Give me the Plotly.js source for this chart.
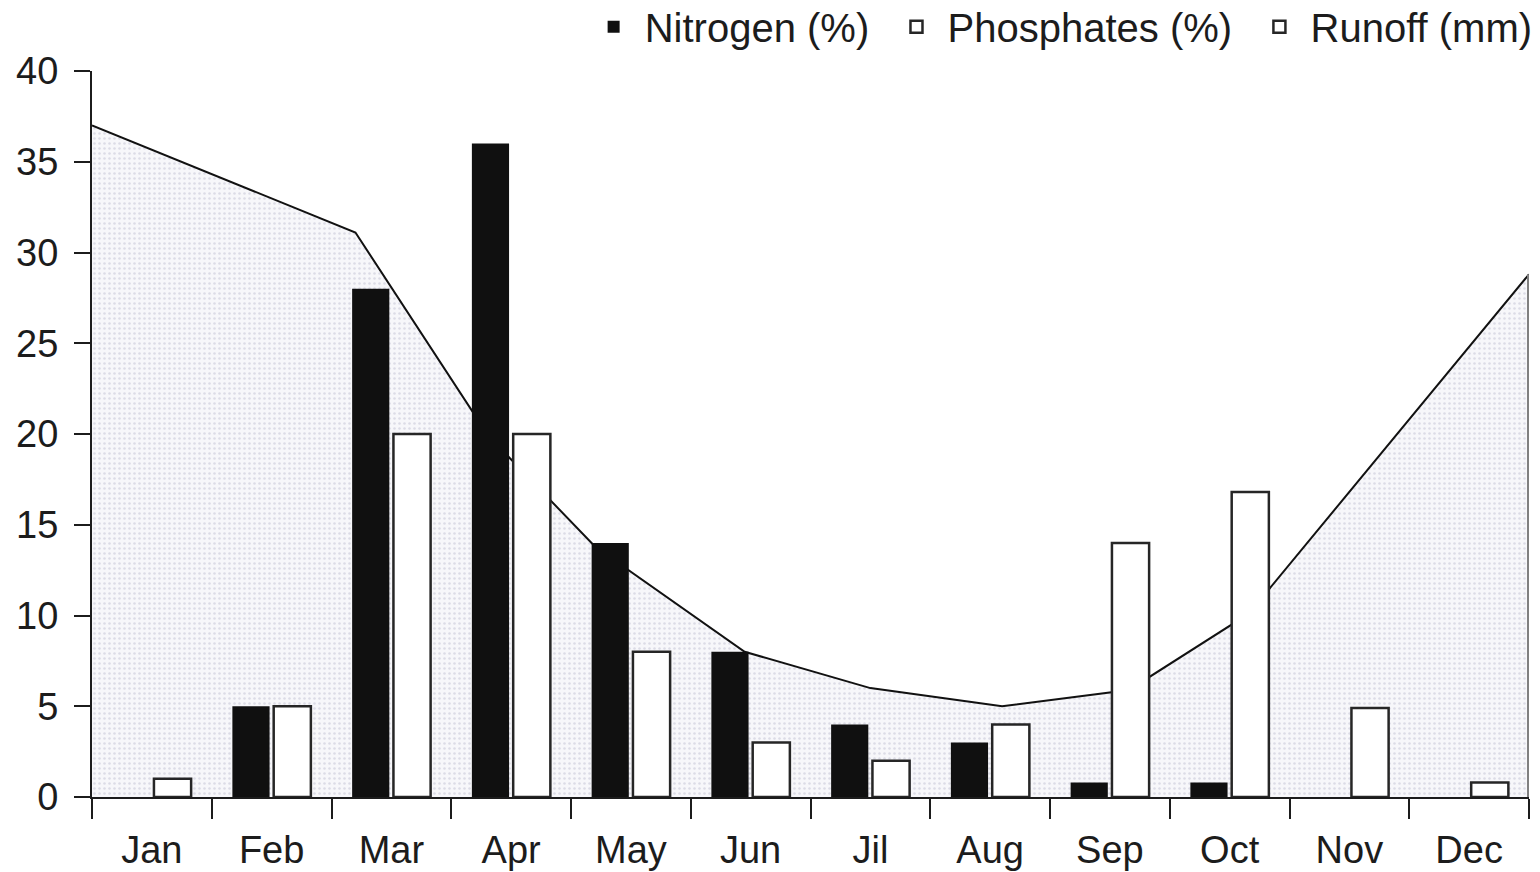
<!DOCTYPE html>
<html>
<head>
<meta charset="utf-8">
<script src="https://cdn.plot.ly/plotly-3.0.1.min.js"></script>
<style>
  html, body { margin: 0; padding: 0; background: #ffffff; }
  #chart { width: 1540px; height: 872px; }
</style>
</head>
<body>
<div id="chart"></div>
<script>
// ---- data ----
const months = ['Jan', 'Feb', 'Mar', 'Apr', 'May', 'Jun', 'Jil', 'Aug', 'Sep', 'Oct', 'Nov', 'Dec'];
const nitrogen = [0, 5, 28, 36, 14, 8, 4, 3, 0.8, 0.8, 0, 0];
const phosphates = [1, 5, 20, 20, 8, 3, 2, 4, 14, 16.8, 4.9, 0.8];
// runoff line vertices (x in month units, Jan = 0)
const runoffX = [-0.5, 1.70, 2.81, 3.70, 4.95, 6.0, 7.10, 8.16, 9.16, 11.5];
const runoffY = [37.0, 31.1, 19.9, 13.8, 8.0, 6.0, 5.0, 5.9, 10.1, 28.8];
const yTicks = [0, 5, 10, 15, 20, 25, 30, 35, 40];
const seriesNames = ['Nitrogen (%)', 'Phosphates (%)', 'Runoff (mm)'];

const ink = '#1c1c1c';
const fontFam = 'Liberation Sans, Arial, Helvetica, sans-serif';
const NB = '\u00A0';

const lastX = runoffX[runoffX.length - 1];
const lastY = runoffY[runoffY.length - 1];

const traces = [
  {
    type: 'scatter', mode: 'lines', x: runoffX, y: runoffY,
    xaxis: 'x', yaxis: 'y',
    line: { color: '#111111', width: 2 },
    fill: 'tozeroy',
    fillcolor: '#f5f5f9',
    fillpattern: { shape: '.', bgcolor: '#f7f7fa', fgcolor: '#dcdce6', size: 5, solidity: 0.2 },
    showlegend: false, hoverinfo: 'skip'
  },
  {
    type: 'scatter', mode: 'lines', x: [lastX, lastX], y: [0, lastY],
    xaxis: 'x', yaxis: 'y',
    line: { color: '#808080', width: 4 },
    showlegend: false, hoverinfo: 'skip'
  },
  {
    type: 'bar', name: NB + seriesNames[0] + NB + NB, x: months, y: nitrogen,
    xaxis: 'x2', yaxis: 'y',
    marker: { color: '#101010', line: { width: 0 } }
  },
  {
    type: 'bar', name: NB + seriesNames[1] + NB + NB, x: months, y: phosphates,
    xaxis: 'x2', yaxis: 'y',
    marker: { color: '#ffffff', line: { color: '#262626', width: 2.5 } }
  },
  {
    // legend entry for the runoff series (its shape is drawn by the first trace)
    type: 'bar', name: NB + seriesNames[2], x: [runoffX[0]], y: [null],
    xaxis: 'x', yaxis: 'y',
    marker: { color: '#ffffff', line: { color: '#262626', width: 2.5 } },
    hoverinfo: 'skip'
  }
];

const layout = {
  width: 1540, height: 872,
  paper_bgcolor: '#ffffff', plot_bgcolor: 'rgba(0,0,0,0)',
  margin: { l: 92, r: 11, t: 71, b: 75, autoexpand: false },
  font: { family: fontFam, color: ink, size: 38 },
  barmode: 'group', bargap: 0.31, bargroupgap: 0.1,
  showlegend: true,
  legend: {
    orientation: 'h', x: 1.006, xanchor: 'right', y: 1.061, yanchor: 'middle',
    font: { family: fontFam, size: 40, color: ink },
    bgcolor: 'rgba(0,0,0,0)', traceorder: 'normal'
  },
  xaxis: {
    type: 'linear', range: [-0.5, 11.5], visible: false, fixedrange: true
  },
  xaxis2: {
    overlaying: 'x', anchor: 'y', side: 'bottom', type: 'category',
    categoryorder: 'array', categoryarray: months,
    range: [-0.5, 11.5], tickson: 'boundaries',
    ticks: 'outside', ticklen: 20, tickwidth: 2, tickcolor: ink,
    showline: true, linewidth: 2, linecolor: ink,
    showgrid: false, zeroline: false,
    tickfont: { family: fontFam, size: 38, color: ink },
    ticklabelstandoff: 18, fixedrange: true
  },
  yaxis: {
    range: [0, 40], tickvals: yTicks, ticktext: yTicks.map(String),
    ticks: 'outside', ticklen: 16, tickwidth: 2, tickcolor: ink,
    showline: true, linewidth: 2, linecolor: ink,
    showgrid: false, zeroline: false,
    tickfont: { family: fontFam, size: 38, color: ink },
    ticklabelstandoff: 8, fixedrange: true
  }
};

Plotly.newPlot('chart', traces, layout, { displayModeBar: false, staticPlot: true });
</script>
</body>
</html>
